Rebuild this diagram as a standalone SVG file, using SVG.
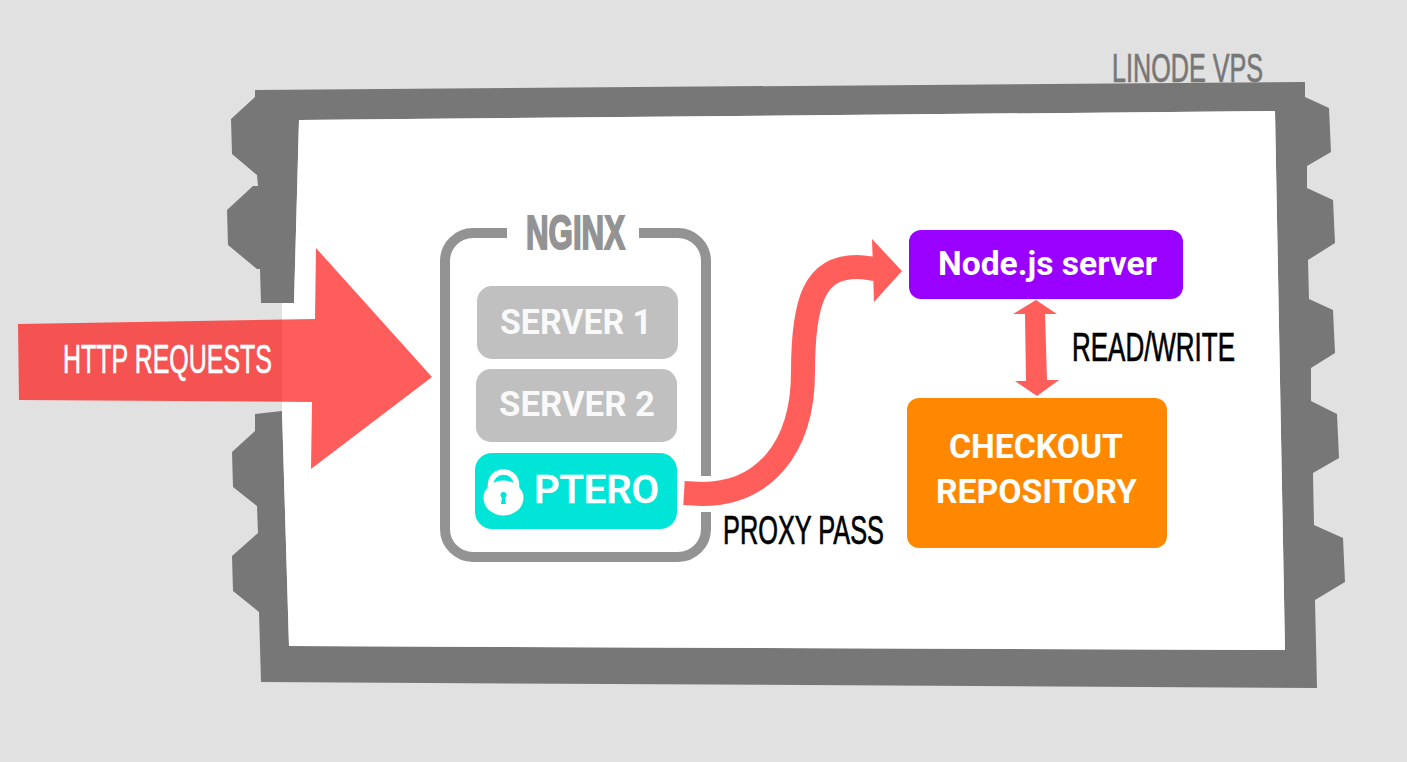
<svg xmlns="http://www.w3.org/2000/svg" width="1407" height="762" viewBox="0 0 1407 762">
<style>
.cond{font-family:"Liberation Sans Narrow","Liberation Sans",sans-serif;font-size:40px;stroke-width:.7px}
.rb{font-family:Roboto,"Liberation Sans",sans-serif;font-weight:700;fill:#fff}
.red{fill:#ff5e5b}
</style>
<rect width="1407" height="762" fill="#e1e1e1"/>
<g id="linode-vps">
<text class="cond" x="1112" y="82" fill="#777" stroke="#777" textLength="151" lengthAdjust="spacingAndGlyphs">LINODE VPS</text>
<path fill="#777" d="M255,90V97L231,119L232,154L257,175L258,186H253L227,210L228,245L257,269H260L261,303H294L299,120L1275,111L1285,650L289,646L282,411L255,414V431L232,452L233,487L257,506L258,533L232,556L233,591L259,612L261,682L1317,688L1315,600L1345,582L1343,538L1314,525L1313,473L1339,458L1337,414L1311,401V368L1335,353L1333,310L1309,299L1308,260L1335,243L1333,200L1307,188V166L1331,152L1329,108L1305,97V82Z"/>
<path fill="#fff" d="M299,120L1275,111L1285,650L289,646L282,411V303H294Z"/>
</g>
<g id="http-requests">
<path fill="#ff100d" fill-opacity=".68" d="M18,324L315,319L316,248L432,377L311,469L312,402L19,400Z"/>
<text class="cond" x="63" y="373" fill="#fff" stroke="#fff" textLength="209" lengthAdjust="spacingAndGlyphs">HTTP REQUESTS</text>
</g>
<g id="nginx">
<path fill="none" stroke="#939393" stroke-width="10" d="M507,233H473A28,28 0 0 0 445,261V529A28,28 0 0 0 473,557H678A28,28 0 0 0 706,529V512M706,476V261A28,28 0 0 0 678,233H639"/>
<text x="526" y="249" font-family="Liberation Sans Narrow,Liberation Sans,sans-serif" font-weight="700" font-size="48" fill="#939393" stroke="#939393" stroke-width="2" textLength="99" lengthAdjust="spacingAndGlyphs">NGINX</text>
</g>
<g id="server-1">
<rect x="477" y="286" width="201" height="73" rx="15" fill="#c0c0c0"/>
<text class="rb" x="500" y="334" font-size="35" fill-opacity=".92" textLength="152" lengthAdjust="spacingAndGlyphs">SERVER 1</text>
</g>
<g id="server-2">
<rect x="476" y="369" width="201" height="73" rx="15" fill="#c0c0c0"/>
<text class="rb" x="499" y="416" font-size="35" fill-opacity=".92" textLength="156" lengthAdjust="spacingAndGlyphs">SERVER 2</text>
</g>
<g id="ptero">
<rect x="475" y="453" width="202" height="76" rx="17" fill="#00e5d8"/>
<path fill="none" stroke="#fff" stroke-width="5.500" d="M490.500,492V485A13,13 0 0 1 516.500,485V492"/>
<ellipse cx="503.500" cy="498" rx="20" ry="17.500" fill="#fff"/>
<circle cx="503.500" cy="495" r="3" fill="#00e5d8"/>
<path fill="#00e5d8" d="M502.500,495H504.500L506,504H501Z"/>
<text x="534" y="503" font-family="Roboto,Liberation Sans,sans-serif" font-weight="500" font-size="38" fill="#fff" stroke="#fff" stroke-width=".6" textLength="125" lengthAdjust="spacingAndGlyphs">PTERO</text>
</g>
<g id="nodejs">
<rect x="909" y="230" width="274" height="69" rx="12" fill="#9900ff"/>
<text class="rb" x="938" y="275" font-size="33" textLength="219" lengthAdjust="spacingAndGlyphs">Node.js server</text>
</g>
<g id="checkout">
<rect x="907" y="398" width="260" height="150" rx="12" fill="#ff8800"/>
<text class="rb" x="949" y="458" font-size="33" textLength="174" lengthAdjust="spacingAndGlyphs">CHECKOUT</text>
<text class="rb" x="936" y="503" font-size="33" textLength="201" lengthAdjust="spacingAndGlyphs">REPOSITORY</text>
</g>
<g id="connectors">
<path fill="none" stroke="#ff5e5b" stroke-width="24" d="M684,493L702,494C762,494 803,450 803,372C803,300 815,267 857,267C862,267 868,268 875,269"/>
<path class="red" d="M872,239L902,271L874,302Z"/>
<path class="red" d="M1036,300L1057,314H1045L1047,380H1059L1037,396L1015,381H1026L1025,314H1013Z"/>
</g>
<text class="cond" x="1072" y="361" fill="#000" stroke="#000" textLength="163" lengthAdjust="spacingAndGlyphs">READ/WRITE</text>
<text class="cond" x="723" y="544" fill="#000" stroke="#000" textLength="161" lengthAdjust="spacingAndGlyphs">PROXY PASS</text>
</svg>
